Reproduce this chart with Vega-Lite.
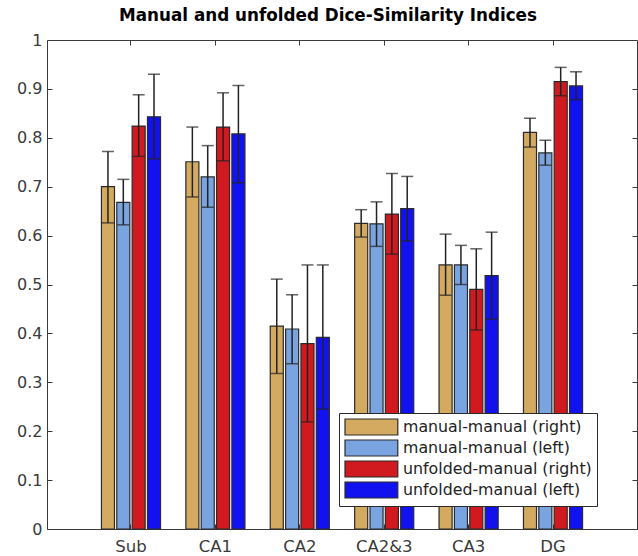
{
  "$schema": "https://vega.github.io/schema/vega-lite/v6.json",
  "autosize": {"type": "none"},
  "padding": {"left": 47, "top": 40, "right": 1, "bottom": 27},
  "width": 590,
  "height": 489,
  "title": {
    "text": "Manual and unfolded Dice-Similarity Indices",
    "font": "DejaVu Sans",
    "fontSize": 16.8,
    "fontWeight": "bold",
    "color": "#000000",
    "anchor": "middle",
    "dx": -14,
    "offset": 7
  },
  "config": {
    "view": {"stroke": "#3a3a3a", "strokeWidth": 1},
    "font": "DejaVu Sans",
    "axis": {
      "domain": false,
      "grid": false,
      "tickColor": "#3a3a3a",
      "tickSize": -5,
      "labelColor": "#3a3a3a",
      "labelFont": "DejaVu Sans",
      "labelFontSize": 16,
      "title": null
    }
  },
  "data": {
    "values": [
      {"region": "Sub", "series": "manual-manual (right)", "value": 0.700, "lo": 0.626, "hi": 0.772},
      {"region": "Sub", "series": "manual-manual (left)", "value": 0.668, "lo": 0.622, "hi": 0.715},
      {"region": "Sub", "series": "unfolded-manual (right)", "value": 0.824, "lo": 0.762, "hi": 0.888},
      {"region": "Sub", "series": "unfolded-manual (left)", "value": 0.843, "lo": 0.757, "hi": 0.930},
      {"region": "CA1", "series": "manual-manual (right)", "value": 0.751, "lo": 0.679, "hi": 0.822},
      {"region": "CA1", "series": "manual-manual (left)", "value": 0.720, "lo": 0.658, "hi": 0.784},
      {"region": "CA1", "series": "unfolded-manual (right)", "value": 0.822, "lo": 0.753, "hi": 0.892},
      {"region": "CA1", "series": "unfolded-manual (left)", "value": 0.808, "lo": 0.708, "hi": 0.907},
      {"region": "CA2", "series": "manual-manual (right)", "value": 0.415, "lo": 0.318, "hi": 0.511},
      {"region": "CA2", "series": "manual-manual (left)", "value": 0.409, "lo": 0.338, "hi": 0.479},
      {"region": "CA2", "series": "unfolded-manual (right)", "value": 0.379, "lo": 0.219, "hi": 0.540},
      {"region": "CA2", "series": "unfolded-manual (left)", "value": 0.392, "lo": 0.245, "hi": 0.540},
      {"region": "CA2&3", "series": "manual-manual (right)", "value": 0.625, "lo": 0.597, "hi": 0.653},
      {"region": "CA2&3", "series": "manual-manual (left)", "value": 0.624, "lo": 0.578, "hi": 0.669},
      {"region": "CA2&3", "series": "unfolded-manual (right)", "value": 0.644, "lo": 0.562, "hi": 0.727},
      {"region": "CA2&3", "series": "unfolded-manual (left)", "value": 0.655, "lo": 0.589, "hi": 0.721},
      {"region": "CA3", "series": "manual-manual (right)", "value": 0.540, "lo": 0.478, "hi": 0.603},
      {"region": "CA3", "series": "manual-manual (left)", "value": 0.540, "lo": 0.500, "hi": 0.580},
      {"region": "CA3", "series": "unfolded-manual (right)", "value": 0.490, "lo": 0.407, "hi": 0.573},
      {"region": "CA3", "series": "unfolded-manual (left)", "value": 0.518, "lo": 0.429, "hi": 0.607},
      {"region": "DG", "series": "manual-manual (right)", "value": 0.811, "lo": 0.781, "hi": 0.840},
      {"region": "DG", "series": "manual-manual (left)", "value": 0.769, "lo": 0.744, "hi": 0.795},
      {"region": "DG", "series": "unfolded-manual (right)", "value": 0.915, "lo": 0.886, "hi": 0.944},
      {"region": "DG", "series": "unfolded-manual (left)", "value": 0.906, "lo": 0.878, "hi": 0.935}
    ]
  },
  "encoding": {
    "x": {
      "field": "region",
      "type": "nominal",
      "sort": ["Sub", "CA1", "CA2", "CA2&3", "CA3", "DG"],
      "scale": {"paddingInner": 0.3, "paddingOuter": 0.645},
      "axis": null
    },
    "xOffset": {
      "field": "series",
      "type": "nominal",
      "sort": ["manual-manual (right)", "manual-manual (left)", "unfolded-manual (right)", "unfolded-manual (left)"],
      "scale": {"paddingInner": 0.15, "paddingOuter": 0}
    }
  },
  "layer": [
    {
      "mark": {"type": "bar", "stroke": "#2a2a2a", "strokeWidth": 1.2},
      "encoding": {
        "x": {
          "field": "region",
          "type": "nominal",
          "sort": ["Sub", "CA1", "CA2", "CA2&3", "CA3", "DG"],
          "axis": {"orient": "bottom", "labelAngle": 0, "labelPadding": 14, "labelFontSize": 16.5, "bandPosition": 0.5}
        },
        "y": {
          "field": "value",
          "type": "quantitative",
          "scale": {"domain": [0, 1]},
          "axis": {"orient": "left", "values": [0, 0.1, 0.2, 0.3, 0.4, 0.5, 0.6, 0.7, 0.8, 0.9, 1], "format": ".1~f", "labelPadding": 10}
        },
        "color": {
          "field": "series",
          "type": "nominal",
          "scale": {
            "domain": ["manual-manual (right)", "manual-manual (left)", "unfolded-manual (right)", "unfolded-manual (left)"],
            "range": ["#D4AA60", "#7AA4E0", "#D01A20", "#1212F0"]
          },
          "legend": {
            "orient": "none",
            "legendX": 292,
            "legendY": 373,
            "title": null,
            "direction": "vertical",
            "fillColor": "#ffffff",
            "strokeColor": "#2a2a2a",
            "padding": 5,
            "symbolType": "M-1,-1H5.6V1H-1Z",
            "symbolSize": 256,
            "symbolStrokeColor": "#2a2a2a",
            "symbolStrokeWidth": 1.2,
            "symbolOpacity": 1,
            "labelFont": "DejaVu Sans",
            "labelFontSize": 15.8,
            "labelColor": "#222222",
            "labelOffset": 41,
            "labelLimit": 400,
            "labelExpr": "datum.label + '    '",
            "rowPadding": -1
          }
        }
      }
    },
    {
      "mark": {"type": "rule", "color": "#222222", "strokeWidth": 1.5},
      "encoding": {
        "x": {
          "field": "region",
          "type": "nominal",
          "sort": ["Sub", "CA1", "CA2", "CA2&3", "CA3", "DG"],
          "axis": {"orient": "top", "labels": false, "bandPosition": 0.5}
        },
        "y": {
          "field": "lo",
          "type": "quantitative",
          "axis": {"orient": "right", "labels": false, "values": [0, 0.1, 0.2, 0.3, 0.4, 0.5, 0.6, 0.7, 0.8, 0.9, 1]}
        },
        "y2": {"field": "hi"}
      }
    },
    {
      "mark": {"type": "tick", "color": "#222222", "thickness": 1.5, "size": 12},
      "encoding": {
        "y": {"field": "hi", "type": "quantitative", "axis": null}
      }
    },
    {
      "mark": {"type": "tick", "color": "#222222", "thickness": 1.5, "size": 12},
      "encoding": {
        "y": {"field": "lo", "type": "quantitative", "axis": null}
      }
    }
  ],
  "resolve": {"axis": {"x": "independent", "y": "independent"}}
}
